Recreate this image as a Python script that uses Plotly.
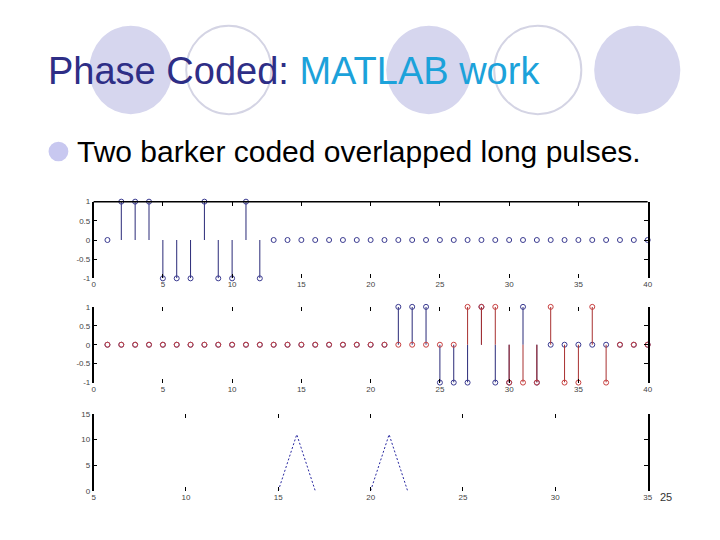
import plotly.graph_objects as go

# ---------------- data ----------------
n_x = list(range(1, 41))
# subplot 1: single Barker-11 pulse starting at sample 2
pulse1 = [0, 1, 1, 1, -1, -1, -1, 1, -1, -1, 1, -1] + [0] * 28
# subplot 2: two overlapped Barker-11 pulses
pulse_a = [0] * 21 + [1, 1, 1, -1, -1, -1, 1, -1, -1, 1, -1] + [0] * 8
pulse_b = [0] * 26 + [1, 1, 1, -1, -1, -1, 1, -1, -1, 1, -1] + [0] * 3
# subplot 3: matched filter output (visible part)
corr_x = [15, 16, 17, 18, 19, 20, 21, 22]
corr_y = [0, 11, 0, None, None, 0, 11, 0]

x_ticks_top = [0, 5, 10, 15, 20, 25, 30, 35, 40]
y_ticks_top = [-1, -0.5, 0, 0.5, 1]
y_tick_text = ["-1", "-0.5", "0", "0.5", "1"]
x_ticks_bot = [5, 10, 15, 20, 25, 30, 35]
y_ticks_bot = [0, 5, 10, 15]

BLUE_STEM = "#2a2a78"
BLUE_MK = "#3a3a90"
RED_STEM = "#a83030"
RED_MK = "#c84040"


def stem_traces(xs, vals, stem_color, mk_color, xa, ya):
    lx, ly = [], []
    for x, v in zip(xs, vals):
        lx += [x, x, None]
        ly += [0, v, None]
    lines = go.Scatter(x=lx, y=ly, mode="lines", xaxis=xa, yaxis=ya,
                       line=dict(color=stem_color, width=1), hoverinfo="skip",
                       showlegend=False)
    marks = go.Scatter(x=xs, y=vals, mode="markers", xaxis=xa, yaxis=ya,
                       marker=dict(symbol="circle-open", size=5, color=mk_color,
                                   line=dict(width=1, color=mk_color)),
                       showlegend=False, cliponaxis=False)
    return [lines, marks]


fig = go.Figure()
for t in stem_traces(n_x, pulse1, BLUE_STEM, BLUE_MK, "x", "y"):
    fig.add_trace(t)
for t in stem_traces(n_x, pulse_a, BLUE_STEM, BLUE_MK, "x2", "y2"):
    fig.add_trace(t)
for t in stem_traces(n_x, pulse_b, RED_STEM, RED_MK, "x2", "y2"):
    fig.add_trace(t)
fig.add_trace(go.Scatter(x=corr_x, y=corr_y, mode="lines", xaxis="x3", yaxis="y3",
                         line=dict(color="#2828a0", width=1, dash="2px,2px"),
                         connectgaps=False, showlegend=False))

W, H = 720, 540
xdom = [92.5 / W, 652 / W]


def ydom(top_px, bot_px):
    return [(H - bot_px) / H, (H - top_px) / H]


tickfont = dict(family="Liberation Sans, Arial, sans-serif", size=8, color="#444444")
common_x = dict(showgrid=False, zeroline=False, showline=False, ticks="inside",
                ticklen=4, tickcolor="black", mirror="ticks", tickfont=tickfont,
                domain=xdom)
common_y = dict(showgrid=False, zeroline=False, showline=True, linecolor="black",
                linewidth=1.5, ticks="inside", ticklen=4, tickcolor="black",
                mirror="ticks", tickfont=tickfont)

fig.update_layout(
    width=W, height=H,
    margin=dict(l=0, r=0, t=0, b=0),
    paper_bgcolor="white", plot_bgcolor="rgba(0,0,0,0)",
    xaxis=dict(common_x, range=[0, 40], tickvals=x_ticks_top, anchor="y"),
    yaxis=dict(common_y, range=[-1, 1], tickvals=y_ticks_top, ticktext=y_tick_text,
               domain=ydom(201, 279), anchor="x"),
    xaxis2=dict(common_x, range=[0, 40], tickvals=x_ticks_top, anchor="y2"),
    yaxis2=dict(common_y, range=[-1, 1], tickvals=y_ticks_top, ticktext=y_tick_text,
                domain=ydom(308, 385), anchor="x2"),
    xaxis3=dict(common_x, range=[5, 35], tickvals=x_ticks_bot, anchor="y3"),
    yaxis3=dict(common_y, range=[0, 15], tickvals=y_ticks_bot,
                domain=ydom(417, 495), anchor="x3"),
)

shapes = []
# decorative title circles (filled / outlined alternately)
circles = [(88, 172, True), (186, 272, False), (388, 474, True), (497, 585, False), (598, 685, True)]
for x0, x1, filled in circles:
    shapes.append(dict(type="circle", xref="paper", yref="paper",
                       x0=x0 / W, x1=x1 / W, y0=(H - 112) / H, y1=(H - 22) / H,
                       fillcolor="#d6d6ee" if filled else "rgba(0,0,0,0)",
                       line=dict(color="#d6d6ee" if filled else "#d4d4e4", width=2 if not filled else 0),
                       layer="below"))
# bullet
shapes.append(dict(type="circle", xref="paper", yref="paper",
                   x0=47 / W, x1=67 / W, y0=(H - 160) / H, y1=(H - 140) / H,
                   fillcolor="#c8c8f0", line=dict(width=0), layer="below"))
# top frame line of first subplot
shapes.append(dict(type="line", xref="x domain", yref="y domain", x0=0, x1=1, y0=1, y1=1,
                   line=dict(color="black", width=1.5), layer="above"))
fig.update_layout(shapes=shapes)

fig.add_annotation(xref="paper", yref="paper", x=44 / W, y=(H - 68) / H,
                   xanchor="left", yanchor="middle", showarrow=False,
                   text="<span style='color:#2e2e86'>Phase Coded: </span>"
                        "<span style='color:#1ca2da'>MATLAB work</span>",
                   font=dict(family="Liberation Sans, Arial, sans-serif", size=38))
fig.add_annotation(xref="paper", yref="paper", x=74 / W, y=(H - 150) / H,
                   xanchor="left", yanchor="middle", showarrow=False,
                   text="Two barker coded overlapped long pulses.",
                   font=dict(family="Liberation Sans, Arial, sans-serif", size=30, color="black"))
fig.add_annotation(xref="paper", yref="paper", x=671 / W, y=(H - 501) / H,
                   xanchor="center", yanchor="middle", showarrow=False,
                   text="25", font=dict(family="Liberation Sans, Arial, sans-serif", size=11, color="#333333"))

fig.write_html("out.html", config={"displayModeBar": False},
               post_script="document.body.style.margin='0';document.body.style.overflow='hidden';")
